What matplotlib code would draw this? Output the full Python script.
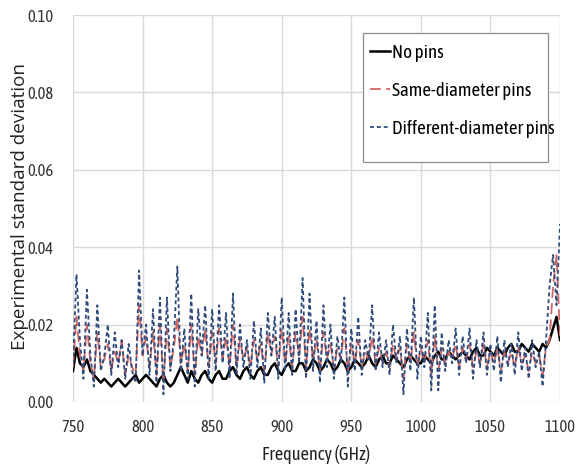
import numpy as np
import matplotlib
matplotlib.use("Agg")
import matplotlib.pyplot as plt
from matplotlib import font_manager
from matplotlib.font_manager import FontProperties
from matplotlib.patches import Rectangle

names = {f.name for f in font_manager.fontManager.ttflist}
FAM = next(c for c in ["Asap Condensed", "Archivo Narrow", "Lato"] if c in names)
YFAM = next(c for c in ["Open Sans", "Lato", "DejaVu Sans"] if c in names)
plt.rcParams['font.family'] = [FAM, 'DejaVu Sans']

freq = np.arange(750, 1100.1, 2.5)

no_pins = [
    0.008, 0.014, 0.010, 0.009, 0.011, 0.008, 0.007, 0.006, 0.005, 0.006,
    0.005, 0.004, 0.005, 0.006, 0.005, 0.004, 0.005, 0.006, 0.007, 0.005,
    0.006, 0.007, 0.006, 0.005, 0.004, 0.006, 0.007, 0.005, 0.004, 0.005,
    0.007, 0.009, 0.007, 0.005, 0.008, 0.006, 0.005, 0.007, 0.008, 0.006,
    0.005, 0.007, 0.008, 0.006, 0.006, 0.008, 0.009, 0.007, 0.006, 0.008,
    0.009, 0.007, 0.006, 0.008, 0.009, 0.007, 0.007, 0.009, 0.010, 0.008,
    0.007, 0.009, 0.010, 0.008, 0.008, 0.010, 0.010, 0.008, 0.009, 0.011,
    0.010, 0.008, 0.009, 0.011, 0.010, 0.008, 0.009, 0.011, 0.010, 0.008,
    0.009, 0.011, 0.010, 0.009, 0.010, 0.012, 0.010, 0.009, 0.011, 0.012,
    0.010, 0.010, 0.012, 0.011, 0.010, 0.009, 0.011, 0.012, 0.011, 0.010,
    0.010, 0.012, 0.011, 0.010, 0.012, 0.013, 0.011, 0.011, 0.013, 0.012,
    0.011, 0.012, 0.013, 0.012, 0.011, 0.013, 0.014, 0.012, 0.012, 0.014,
    0.013, 0.012, 0.014, 0.013, 0.012, 0.014, 0.015, 0.013, 0.013, 0.015,
    0.014, 0.013, 0.015, 0.014, 0.013, 0.015, 0.014, 0.016, 0.019, 0.022,
    0.016,
]

same_diam = [
    0.009, 0.022, 0.012, 0.008, 0.020, 0.010, 0.006, 0.018, 0.009, 0.011,
    0.015, 0.008, 0.013, 0.010, 0.016, 0.007, 0.012, 0.009, 0.007, 0.025,
    0.012, 0.017, 0.009, 0.018, 0.007, 0.020, 0.005, 0.019, 0.009, 0.014,
    0.022, 0.010, 0.015, 0.008, 0.020, 0.007, 0.017, 0.012, 0.019, 0.009,
    0.018, 0.010, 0.019, 0.011, 0.017, 0.009, 0.020, 0.009, 0.016, 0.011,
    0.014, 0.009, 0.016, 0.011, 0.015, 0.008, 0.018, 0.012, 0.017, 0.009,
    0.019, 0.010, 0.017, 0.009, 0.018, 0.012, 0.022, 0.009, 0.019, 0.011,
    0.016, 0.008, 0.018, 0.011, 0.015, 0.009, 0.014, 0.011, 0.019, 0.008,
    0.015, 0.010, 0.016, 0.009, 0.013, 0.011, 0.017, 0.010, 0.014, 0.010,
    0.013, 0.009, 0.015, 0.011, 0.014, 0.006, 0.015, 0.010, 0.018, 0.009,
    0.014, 0.010, 0.016, 0.007, 0.017, 0.008, 0.014, 0.010, 0.013, 0.011,
    0.015, 0.009, 0.014, 0.011, 0.015, 0.009, 0.013, 0.010, 0.015, 0.009,
    0.013, 0.010, 0.014, 0.008, 0.013, 0.010, 0.013, 0.009, 0.014, 0.010,
    0.012, 0.008, 0.013, 0.010, 0.012, 0.007, 0.014, 0.016, 0.030, 0.038,
    0.017,
]

diff_diam = [
    0.010, 0.033, 0.016, 0.006, 0.029, 0.012, 0.004, 0.025, 0.008, 0.012,
    0.020, 0.007, 0.018, 0.009, 0.016, 0.006, 0.015, 0.008, 0.005, 0.034,
    0.012, 0.020, 0.007, 0.024, 0.005, 0.027, 0.002, 0.027, 0.008, 0.016,
    0.035, 0.008, 0.019, 0.006, 0.028, 0.004, 0.024, 0.012, 0.025, 0.006,
    0.024, 0.008, 0.025, 0.010, 0.023, 0.006, 0.028, 0.007, 0.020, 0.009,
    0.016, 0.006, 0.021, 0.009, 0.019, 0.005, 0.023, 0.012, 0.022, 0.006,
    0.027, 0.008, 0.023, 0.007, 0.024, 0.010, 0.032, 0.006, 0.028, 0.008,
    0.021, 0.005, 0.025, 0.009, 0.020, 0.006, 0.017, 0.010, 0.027, 0.004,
    0.019, 0.008, 0.022, 0.007, 0.016, 0.011, 0.025, 0.008, 0.018, 0.009,
    0.016, 0.007, 0.020, 0.010, 0.017, 0.002, 0.019, 0.008, 0.027, 0.006,
    0.017, 0.009, 0.023, 0.003, 0.025, 0.003, 0.018, 0.008, 0.016, 0.010,
    0.019, 0.007, 0.017, 0.010, 0.019, 0.006, 0.016, 0.009, 0.018, 0.007,
    0.015, 0.008, 0.017, 0.005, 0.016, 0.009, 0.015, 0.007, 0.018, 0.008,
    0.014, 0.006, 0.016, 0.009, 0.013, 0.004, 0.016, 0.030, 0.038, 0.025,
    0.046,
]

labels = ["No pins", "Same-diameter pins", "Different-diameter pins"]
xticks = [750, 800, 850, 900, 950, 1000, 1050, 1100]
yticks = [0.00, 0.02, 0.04, 0.06, 0.08, 0.10]
xlabel = "Frequency (GHz)"
ylabel = "Experimental standard deviation"

W, H = 579, 470
fig = plt.figure(figsize=(W / 100, H / 100), dpi=100)
renderer = fig.canvas.get_renderer()


def fit(s, px, fam):
    fp = FontProperties(family=[fam, 'DejaVu Sans'], size=10)
    w, h, d = renderer.get_text_width_height_descent(s, fp, ismath=False)
    return 10.0 * px / w


tick_fs = fit("750", 23, FAM)
leg_fs = fit(labels[2], 163, FAM)
xl_fs = fit(xlabel, 108, FAM)
yl_fs = fit(ylabel, 288, YFAM)

ax = fig.add_axes([73 / W, 1 - 402 / H, (560 - 73) / W, (402 - 15) / H])

ax.plot(freq, no_pins, color="black", lw=1.8, label=labels[0], zorder=3)
ax.plot(freq, same_diam, color="#d06663", lw=1.3, linestyle=(0, (6, 3)), label=labels[1], zorder=4)
ax.plot(freq, diff_diam, color="#2f4b7c", lw=1.3, linestyle=(0, (2.2, 1.6)), label=labels[2], zorder=5)

ax.set_xlim(750, 1100)
ax.set_ylim(0, 0.10)
ax.set_xticks(xticks)
ax.set_yticks(yticks)
ax.set_yticklabels([f"{v:.2f}" for v in yticks])
ax.grid(True, color="#d9d9d9", lw=1.0)
ax.set_axisbelow(True)
for s in ax.spines.values():
    s.set_visible(False)
ax.tick_params(length=0, labelsize=tick_fs, colors="#333333")
ax.tick_params(axis="x", pad=12)
ax.tick_params(axis="y", pad=14)
ax.set_xlabel(xlabel, fontsize=xl_fs, color="#222222")
ax.set_ylabel(ylabel, fontsize=yl_fs, color="#222222", family=[YFAM, 'DejaVu Sans'])
ax.xaxis.set_label_coords((316 - 73) / 487, -(455 - 402) / 387)
ax.yaxis.set_label_coords((20 - 73) / 487, (402 - 207) / 387)
ax.xaxis.label.set_va("center")
ax.yaxis.label.set_va("center")

# legend frame
fig.patches.append(Rectangle((363 / W, 1 - 162 / H), (548 - 363) / W, (162 - 33) / H,
                             transform=fig.transFigure, facecolor="white",
                             edgecolor="#8c8c8c", lw=0.9, zorder=10))
fs_px = leg_fs * 100 / 72
leg = fig.legend(loc="upper left", bbox_to_anchor=(370 / W, 1 - 44 / H),
                 bbox_transform=fig.transFigure, fontsize=leg_fs,
                 handlelength=20 / fs_px, handletextpad=2 / fs_px,
                 labelspacing=(43.5 - 1.25 * fs_px) / fs_px,
                 borderpad=0, borderaxespad=0, frameon=False)
leg.set_zorder(11)

fig.savefig("out.png", dpi=100)
